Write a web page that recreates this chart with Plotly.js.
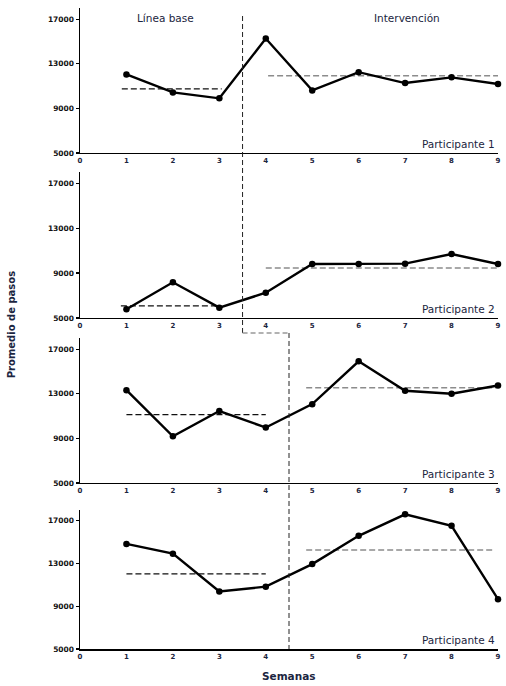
<!DOCTYPE html>
<html>
<head>
<meta charset="utf-8">
<script src="https://cdn.plot.ly/plotly-3.0.1.min.js"></script>
<style>
  body {margin:0; background:#fff;}
  #chart {width:506px; height:686px;}
</style>
</head>
<body>
<div id="chart"></div>
<script>

// 1. Data
// -------

var semanas = [1,2,3,4,5,6,7,8,9]

var pasos_p1 = [12040,10430,9900,15260,10610,12250,11270,11780,11180]
var pasos_p2 = [5780,8180,5920,7250,9810,9800,9840,10700,9800]
var pasos_p3 = [13320,9180,11450,9970,12070,15910,13270,13000,13740]
var pasos_p4 = [14830,13920,10380,10830,12940,15590,17600,16530,9660]

var participantes = ['Participante 1','Participante 2','Participante 3','Participante 4']

// mean lines per phase (start week, end week, level)
var base_x0 = [0.9,0.88,1.0,1.0]
var base_x1 = [3.05,3.0,4.0,4.0]
var base_mean = [10740,6070,11130,12030]
var int_x0 = [4.05,4.0,4.87,4.87]
var int_x1 = [9.0,9.0,8.97,8.9]
var int_mean = [11930,9450,13540,14260]

// phase change (between weeks)
var cambio_fase = [3.5,3.5,4.5,4.5]

var yTicks = [5000,9000,13000,17000]
var yTickText = ['5000','9000','13000','17000']
var xTicks = [0,1,2,3,4,5,6,7,8,9]


// 2. Layout
// ---------

var txtColor = '#1b2540'
var domains = [[0.7738,1.0],[0.5164,0.7441],[0.2590,0.4852],[0.0,0.2168]]
var allPasos = [pasos_p1,pasos_p2,pasos_p3,pasos_p4]

var layout = {
    width: 506,
    height: 686,
    margin: {l:80, r:8, t:8, b:37},
    paper_bgcolor: '#fff',
    plot_bgcolor: '#fff',
    showlegend: false,
    font: {family:'DejaVu Sans', color: txtColor},
    annotations: [],
    shapes: [],
}

var data = []

for (var i=0;i<4;i++) {
    var n = i==0 ? '' : String(i+1)
    var xa = 'x'+n
    var ya = 'y'+n

    layout['xaxis'+n] = {
        domain: [0,1],
        anchor: ya,
        range: [0,9],
        tickvals: xTicks,
        showgrid: false,
        zeroline: false,
        showline: true,
        linecolor: '#000',
        linewidth: 1.5,
        ticks: '',
        ticklen: 0,
        tickfont: {family:'DejaVu Sans', size:7, weight:'bold', color: txtColor},
        fixedrange: true,
    }
    layout['yaxis'+n] = {
        domain: domains[i],
        anchor: xa,
        range: [5000,18000],
        tickvals: yTicks,
        ticktext: yTickText,
        showgrid: false,
        zeroline: false,
        showline: true,
        linecolor: '#000',
        linewidth: 1.5,
        ticks: 'outside',
        ticklen: 3,
        tickwidth: 1.2,
        tickcolor: '#000',
        tickfont: {family:'DejaVu Sans', size:7.5, weight:'bold', color: '#111'},
        fixedrange: true,
    }

    // baseline mean
    data.push({
        x: [base_x0[i], base_x1[i]],
        y: [base_mean[i], base_mean[i]],
        xaxis: xa, yaxis: ya,
        mode: 'lines',
        line: {color:'#111', width:1.3, dash:'6px,3px'},
        hoverinfo: 'skip',
    })
    // intervention mean
    data.push({
        x: [int_x0[i], int_x1[i]],
        y: [int_mean[i], int_mean[i]],
        xaxis: xa, yaxis: ya,
        mode: 'lines',
        line: {color:'#8c8c8c', width:1.5, dash:'6px,3px'},
        hoverinfo: 'skip',
    })
    // steps
    data.push({
        x: semanas,
        y: allPasos[i],
        xaxis: xa, yaxis: ya,
        mode: 'lines+markers',
        line: {color:'#000', width:2.4},
        marker: {color:'#000', size:6.5, symbol:'circle'},
        cliponaxis: false,
    })

    layout.annotations.push({
        text: participantes[i],
        xref: xa, yref: ya,
        x: 8.97, y: 5800,
        xanchor: 'right', yanchor: 'middle',
        showarrow: false,
        font: {family:'DejaVu Sans', size:10.5, color: txtColor},
    })
}

// phase labels
layout.annotations.push({
    text: 'Línea base', xref:'x', yref:'y', x:1.84, y:17100,
    showarrow:false, font:{family:'DejaVu Sans', size:10.5, color: txtColor},
})
layout.annotations.push({
    text: 'Intervención', xref:'x', yref:'y', x:7.04, y:17100,
    showarrow:false, font:{family:'DejaVu Sans', size:10.5, color: txtColor},
})

// axis titles
layout.annotations.push({
    text: '<b>Promedio de pasos</b>', xref:'paper', yref:'paper', x:-0.18, y:0.5055,
    textangle: -90, showarrow:false, font:{family:'DejaVu Sans', size:10, color: txtColor},
})
layout.annotations.push({
    text: '<b>Semanas</b>', xref:'paper', yref:'paper', x:0.5, y:-0.042,
    yanchor:'middle', showarrow:false, font:{family:'DejaVu Sans', size:10.5, color: txtColor},
})

// phase change line, stepped between panels
layout.shapes.push({
    type:'line', xref:'x', yref:'paper',
    x0: cambio_fase[0], x1: cambio_fase[1], y0: 0.9875, y1: 0.493,
    line: {color:'#222', width:1, dash:'5px,3px'},
})
layout.shapes.push({
    type:'line', xref:'x', yref:'paper',
    x0: cambio_fase[1], x1: cambio_fase[2], y0: 0.493, y1: 0.493,
    line: {color:'#999', width:1.5, dash:'5px,3px'},
})
layout.shapes.push({
    type:'line', xref:'x', yref:'paper',
    x0: cambio_fase[2], x1: cambio_fase[3], y0: 0.493, y1: 0,
    line: {color:'#222', width:1, dash:'5px,3px'},
})

Plotly.newPlot('chart', data, layout, {displayModeBar:false, staticPlot:true})

</script>
</body>
</html>
